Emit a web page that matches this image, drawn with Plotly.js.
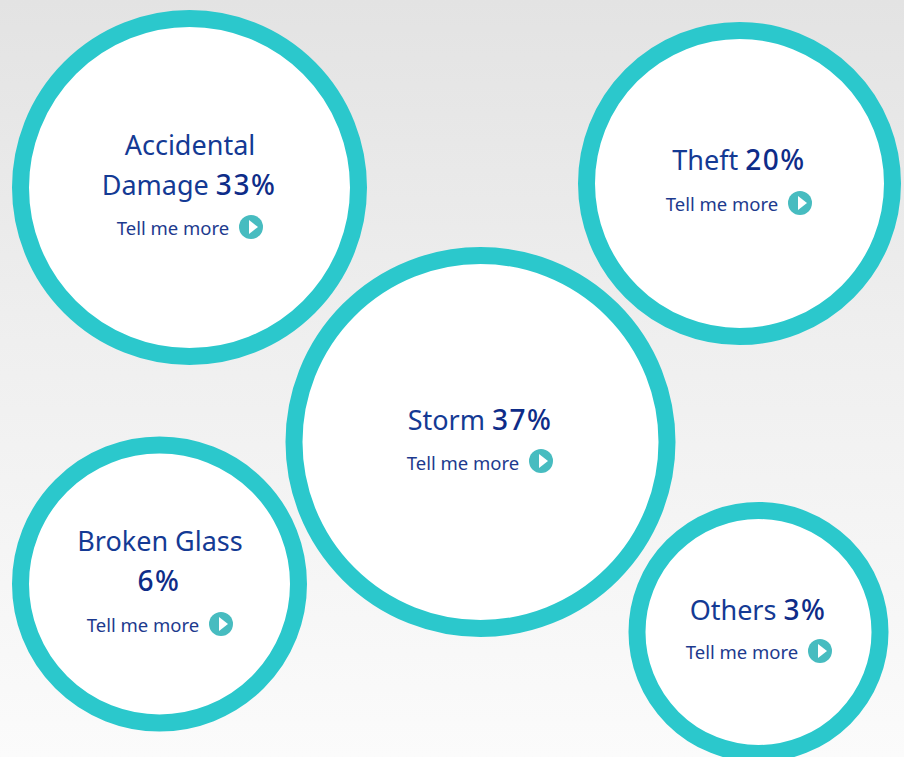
<!DOCTYPE html>
<html>
<head>
<meta charset="utf-8">
<script src="https://cdn.plot.ly/plotly-3.0.1.min.js"></script>
<style>
html,body{margin:0;padding:0;width:904px;height:757px;overflow:hidden;background:linear-gradient(to bottom,#e3e3e3 0%,#efefef 45%,#fbfbfb 100%);}
#chart{width:904px;height:757px;}
</style>
</head>
<body>
<div id="chart"></div>
<script>
const circleX = [189.5, 739.5, 480.5, 159.5, 758.5];
const circleY = [187.5, 183.5, 442, 584, 632];
const circleDiameter = [355, 323, 390, 295, 260];

const pct = v => '<span style="font-weight:500;letter-spacing:1.5px;font-size:28px;fill:#0e2c88">' + v + '</span>';
const nameLines = ['Accidental', 'Damage ' + pct('33%'), 'Theft ' + pct('20%'), 'Storm ' + pct('37%'), 'Broken Glass', pct('6%'), 'Others ' + pct('3%')];
const nameX = [190, 189, 739, 480, 160, 159, 758];
const nameY = [148, 188, 163, 423, 544, 584, 613];

const linkLabel = 'Tell me more';
const linkX = [173, 722, 463, 143, 742];
const linkY = [230, 206, 465, 627, 654];
const iconX = [251, 800, 541, 221, 820];
const iconY = [227, 203, 461, 624, 651];

const ringWidth = 17;
const fontFamily = '"Noto Sans", sans-serif';

const traces = [
  {x: circleX, y: circleY, mode: 'markers', hoverinfo: 'skip',
   marker: {symbol: 'circle', color: '#ffffff', opacity: 1, sizemode: 'diameter',
            size: circleDiameter.map(d => d - ringWidth),
            line: {color: '#2bc8cc', width: ringWidth}}},
  {x: nameX, y: nameY, mode: 'text', text: nameLines, hoverinfo: 'skip',
   textposition: 'middle center',
   textfont: {family: fontFamily, size: 27, color: '#143a94'}},
  {x: linkX, y: linkY, mode: 'text', text: linkX.map(() => linkLabel), hoverinfo: 'skip',
   textposition: 'middle center',
   textfont: {family: fontFamily, size: 18.5, color: '#1d3a8e'}},
  {x: iconX, y: iconY, mode: 'markers', hoverinfo: 'skip',
   marker: {symbol: 'circle', color: '#47bcc0', opacity: 1, size: 24, line: {width: 0}}},
  {x: iconX.map(v => v + 1), y: iconY, mode: 'markers', hoverinfo: 'skip',
   marker: {symbol: 'triangle-right', color: '#ffffff', opacity: 1, size: 12, line: {width: 0}}}
];

const layout = {
  width: 904, height: 757, showlegend: false,
  margin: {l: 0, r: 0, t: 0, b: 0, pad: 0},
  paper_bgcolor: 'rgba(0,0,0,0)', plot_bgcolor: 'rgba(0,0,0,0)',
  xaxis: {range: [0, 904], visible: false, fixedrange: true},
  yaxis: {range: [757, 0], visible: false, fixedrange: true}
};

Plotly.newPlot('chart', traces, layout, {displayModeBar: false, staticPlot: true});
</script>
</body>
</html>
